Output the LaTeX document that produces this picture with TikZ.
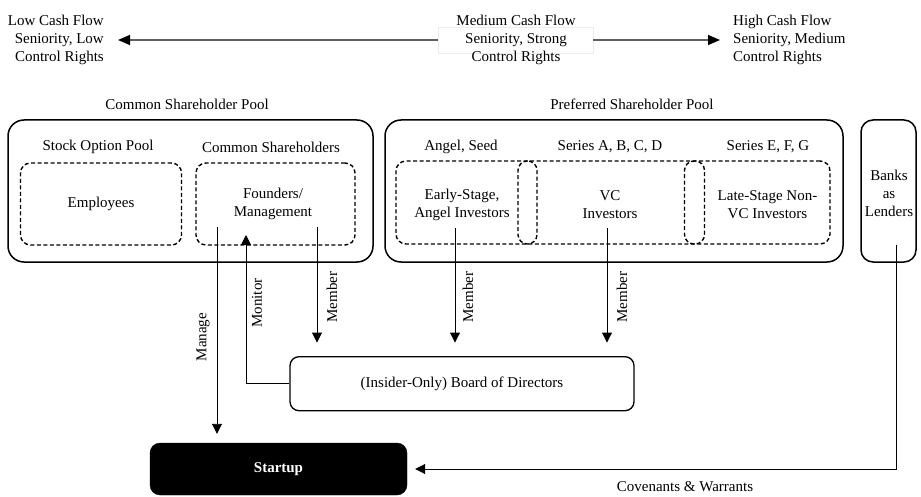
\documentclass[tikz,border=0pt]{standalone}
\usepackage{fontspec}
\setmainfont{Liberation Serif}
\usetikzlibrary{arrows.meta,shapes.geometric}
\begin{document}
\begin{tikzpicture}[x=1pt,y=-1pt,
  txt/.style={font=\fontsize{15}{18}\selectfont, inner sep=0pt, align=center},
  pool/.style={draw, line width=1.5pt, rounded corners=16pt, inner sep=0pt},
  dbox/.style={draw, line width=1.4pt, dash pattern=on 4pt off 2.5pt, rounded corners=10pt, inner sep=0pt},
  oval/.style={draw, rectangle, rounded corners=9.4pt, line width=1.4pt, dash pattern=on 4pt off 2.5pt, inner sep=0pt},
  conn/.style={line width=0.9pt, -{Triangle[length=10pt,width=10pt]}},
  toparrow/.style={line width=1.3pt, draw=gray!75!black, -{Triangle[length=12pt,width=10pt,color=black]}},
  lbl/.style={txt, rotate=90}
]
\useasboundingbox (0,0) rectangle (921,497);

% top scale
\node[draw=gray!15, line width=0.6pt, fill=white, minimum width=155pt, minimum height=26pt, inner sep=0pt] (midbox) at (515.5,40) {};
\node[txt] (mid) at (516,39.5) {Medium Cash Flow\\Seniority, Strong\\Control Rights};
\node[txt, align=right, anchor=east] (low) at (104,39.5) {Low Cash Flow\\Seniority, Low\\Control Rights};
\node[txt, align=left, anchor=west] (high) at (733,39.5) {High Cash Flow\\Seniority, Medium\\Control Rights};
\coordinate (lowtip) at (118,40);
\coordinate (hightip) at (720,40);
\draw[toparrow] (midbox.west) -- (lowtip);
\draw[toparrow] (midbox.east) -- (hightip);

% common pool
\node[txt] (ctitle) at (187,104.5) {Common Shareholder Pool};
\node[pool, minimum width=365pt, minimum height=142pt] (cpool) at (190.5,191) {};
\node[txt] (sop) at (98,147) {Stock Option Pool};
\node[txt] (csh) at (271,147) {Common Shareholders};
\node[dbox, txt, minimum width=161pt, minimum height=82pt] (emp) at (101,204) {Employees};
\node[dbox, minimum width=159pt, minimum height=82pt] (fnd) at (275.5,204) {};
\node[txt] (fndtxt) at (273,203.5) {Founders/\\Management};

% preferred pool
\node[txt] (ptitle) at (632,104.5) {Preferred Shareholder Pool};
\node[pool, minimum width=458pt, minimum height=142pt] (ppool) at (614,191) {};
\node[txt] (angel) at (461,147) {Angel, Seed};
\node[txt] (seriesa) at (610,147) {Series A, B, C, D};
\node[txt] (seriese) at (768,147) {Series E, F, G};
\node[dbox, minimum width=434pt, minimum height=83pt] (pref) at (613,202.5) {};
\node[oval, minimum width=19pt, minimum height=83pt] (ov1) at (527.5,202.5) {};
\node[oval, minimum width=20pt, minimum height=83pt] (ov2) at (694.5,202.5) {};
\node[txt] (early) at (462,205) {Early-Stage,\\Angel Investors};
\node[txt] (vc) at (610,205) {VC\\Investors};
\node[txt] (late) at (767.5,205) {Late-Stage Non-\\VC Investors};

% banks
\node[pool, rounded corners=12pt, minimum width=55pt, minimum height=142pt] (banks) at (888.5,191) {};
\node[txt] (bankstxt) at (889,193) {Banks\\as\\Lenders};

% board and startup
\node[draw, line width=1.3pt, rounded corners=9pt, minimum width=344pt, minimum height=54pt, txt] (board) at (462,383.7) {(Insider-Only) Board of Directors};
\node[fill=black, draw=black, rounded corners=10pt, minimum width=257pt, minimum height=52pt, txt, text=white, font=\fontsize{15}{18}\selectfont\bfseries] (startup) at (278.5,469) {Startup};

% connectors
\coordinate (manS) at (217,227);
\coordinate (monT) at (246,235);
\coordinate (mem1S) at (317,227);
\coordinate (mem2S) at (455,228);
\coordinate (mem3S) at (607,228);
\coordinate (bankS) at (896,245);

\draw[conn, shorten >=9pt] (manS) -- (manS |- startup.north);
\draw[conn] (board.west) -| (monT);
\draw[conn, shorten >=13.5pt] (mem1S) -- (mem1S |- board.north);
\draw[conn, shorten >=13.5pt] (mem2S) -- (mem2S |- board.north);
\draw[conn, shorten >=13.5pt] (mem3S) -- (mem3S |- board.north);
\draw[conn, shorten >=8pt] (bankS) |- (startup.east);

% labels
\node[lbl] (lman) at (203,337) {Manage};
\node[lbl] (lmon) at (257,303) {Monitor};
\node[lbl] (lmem1) at (332,297) {Member};
\node[lbl] (lmem2) at (468,297) {Member};
\node[lbl] (lmem3) at (622,297) {Member};
\node[txt] (cov) at (685,487) {Covenants \& Warrants};
\end{tikzpicture}
\end{document}
